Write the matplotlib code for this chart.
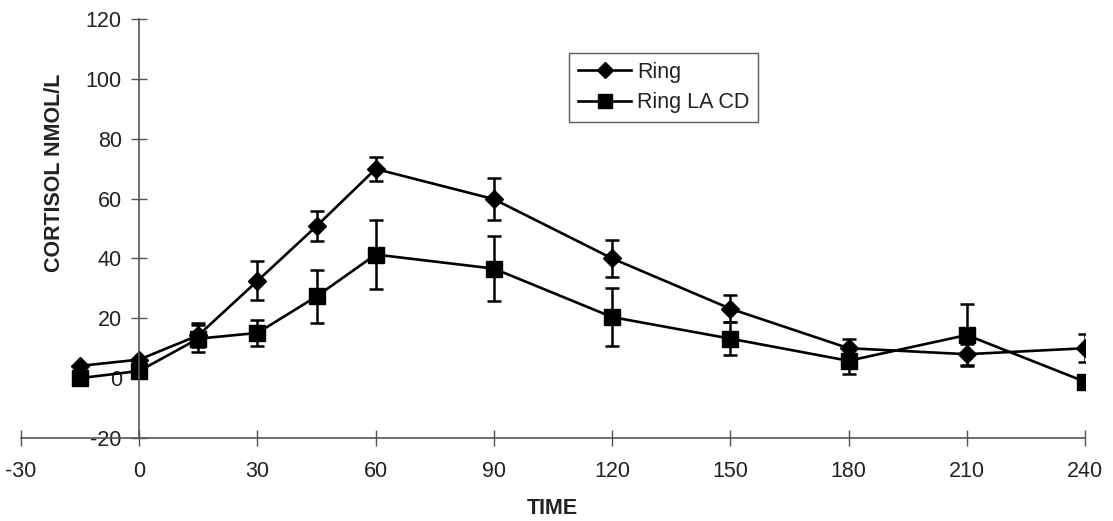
import matplotlib
matplotlib.use("Agg")
import matplotlib.pyplot as plt

plt.rcParams['font.family'] = ['Liberation Sans', 'DejaVu Sans']
plt.rcParams['axes.unicode_minus'] = False

# Sampling times (minutes) and cortisol values (nmol/L)
time = [-15, 0, 15, 30, 45, 60, 90, 120, 150, 180, 210, 240]
ring = [4.1, 6.2, 14.3, 32.5, 50.8, 69.9, 59.8, 40.0, 23.2, 10.0, 8.0, 10.0]
ring_err = [0, 0, 4.0, 6.5, 5.0, 3.9, 7.0, 6.3, 4.5, 3.0, 3.5, 4.7]
ring_la_cd = [0.0, 2.4, 13.2, 15.1, 27.3, 41.3, 36.6, 20.4, 13.2, 5.8, 14.4, -1.2]
ring_la_cd_err = [0, 0, 4.5, 4.4, 9.0, 11.6, 10.8, 9.7, 5.6, 4.5, 10.4, 0]

x_ticks = [-30, 0, 30, 60, 90, 120, 150, 180, 210, 240]
y_ticks = [-20, 0, 20, 40, 60, 80, 100, 120]

W, H = 1113, 521
fig = plt.figure(figsize=(W / 100, H / 100), dpi=100)
ax = fig.add_axes([21 / W, 1 - 438 / H, (1085 - 21) / W, (438 - 19) / H])

text_color = '#222222'
axis_color = '#555555'
fs = 15.5

err_kw = dict(fmt='none', ecolor='black', elinewidth=1.8, capsize=5, capthick=1.8)
ax.errorbar(time, ring, yerr=ring_err, **err_kw)
ax.plot(time, ring, color='black', lw=1.9, marker='D', ms=9.5, label='Ring')
ax.errorbar(time, ring_la_cd, yerr=ring_la_cd_err, **err_kw)
ax.plot(time, ring_la_cd, color='black', lw=1.9, marker='s', ms=11,
        label='Ring LA CD')

ax.set_xlim(-30, 240)
ax.set_ylim(-20, 120)
ax.set_xticks(x_ticks)
ax.set_yticks(y_ticks)

for side in ('top', 'right'):
    ax.spines[side].set_visible(False)
ax.spines['left'].set_position(('data', 0))
for side in ('left', 'bottom'):
    ax.spines[side].set_color(axis_color)
    ax.spines[side].set_linewidth(1.2)

ax.tick_params(axis='both', direction='inout', length=11, width=1.0,
               color=axis_color, labelcolor=text_color, labelsize=fs)
ax.tick_params(axis='x', pad=11)
ax.tick_params(axis='y', pad=7)

fig.text(55 / W, 1 - 173 / H, 'CORTISOL NMOL/L', rotation=90, ha='center',
         va='center', fontsize=fs, fontweight='bold', color=text_color)
fig.text(552 / W, 1 - 508 / H, 'TIME', ha='center', va='center',
         fontsize=fs, fontweight='bold', color=text_color)

leg = ax.legend(loc='upper left', bbox_to_anchor=(569 / W, 1 - 53 / H),
                bbox_transform=fig.transFigure, fontsize=fs, frameon=True,
                fancybox=False, edgecolor='#333333', handlelength=2.5,
                handletextpad=0.25, borderpad=0.4, labelspacing=0.45,
                borderaxespad=0, numpoints=1, markerscale=0.9)
leg.get_frame().set_linewidth(1.0)
for t in leg.get_texts():
    t.set_color(text_color)

fig.savefig('out.png', dpi=100, facecolor='white')
